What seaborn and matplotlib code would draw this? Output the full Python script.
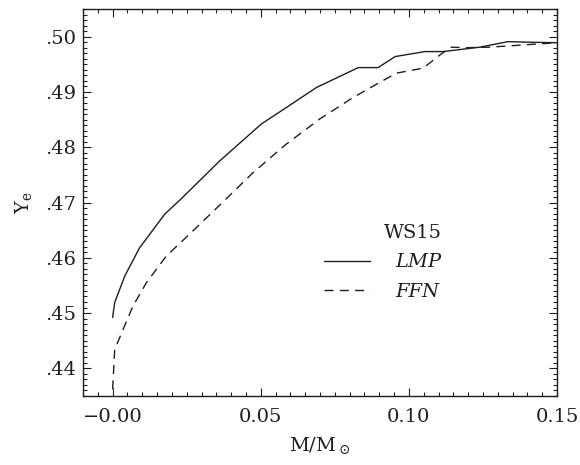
import numpy as np
import pandas as pd
import matplotlib
matplotlib.use("Agg")
import matplotlib.pyplot as plt
from matplotlib.ticker import MultipleLocator, FixedLocator, FixedFormatter, FuncFormatter
from matplotlib.lines import Line2D
import seaborn as sns

# Electron fraction profiles vs. enclosed mass
lmp_mass = [0.0, 0.0007, 0.0041, 0.0091, 0.0176, 0.0232, 0.0361, 0.0502, 0.0587,
            0.0688, 0.0829, 0.0896, 0.0954, 0.1054, 0.1116, 0.1240, 0.1335,
            0.1397, 0.1499]
lmp_ye = [0.4492, 0.4519, 0.4567, 0.4618, 0.4679, 0.4707, 0.4775, 0.4842, 0.4872,
          0.4908, 0.4944, 0.4944, 0.4964, 0.4973, 0.4973, 0.4981, 0.4991,
          0.4990, 0.4989]

ffn_mass = [0.0, 0.0007, 0.0035, 0.0069, 0.0114, 0.0181, 0.0260, 0.0361, 0.0474,
            0.0587, 0.0699, 0.0812, 0.0891, 0.0958, 0.1048, 0.1110, 0.1144,
            0.1194, 0.1273, 0.1386, 0.1499]
ffn_ye = [0.4362, 0.4434, 0.4470, 0.4513, 0.4555, 0.4603, 0.4643, 0.4695, 0.4754,
          0.4806, 0.4851, 0.4890, 0.4914, 0.4934, 0.4943, 0.4969, 0.4981,
          0.4980, 0.4981, 0.4985, 0.4989]

series_names = ["LMP", "FFN"]
legend_title = "WS15"
x_ticks = [0.0, 0.05, 0.10, 0.15]
x_tick_labels = ["\u22120.00", "0.05", "0.10", "0.15"]
y_ticks = [0.44, 0.45, 0.46, 0.47, 0.48, 0.49, 0.50]

df = pd.concat([
    pd.DataFrame({"mass": lmp_mass, "ye": lmp_ye, "model": series_names[0]}),
    pd.DataFrame({"mass": ffn_mass, "ye": ffn_ye, "model": series_names[1]}),
], ignore_index=True)

sns.set_theme(style="ticks")
plt.rcParams["font.family"] = ["DejaVu Serif"]
plt.rcParams["mathtext.fontset"] = "dejavuserif"

ink = "#1e1e1e"
fig = plt.figure(figsize=(5.8, 4.65), dpi=100)
ax = fig.add_axes([83 / 580, 1 - 396 / 465, (557 - 83) / 580, (396 - 9) / 465])

sns.lineplot(data=df, x="mass", y="ye", style="model",
             dashes={"LMP": "", "FFN": (6.5, 4.5)},
             color=ink, linewidth=1.0, estimator=None, sort=False,
             legend=False, ax=ax)

ax.set_xlim(-0.01, 0.15)
ax.set_ylim(0.435, 0.505)

ax.xaxis.set_major_locator(FixedLocator(x_ticks))
ax.xaxis.set_major_formatter(FixedFormatter(x_tick_labels))
ax.xaxis.set_minor_locator(MultipleLocator(0.005))
ax.yaxis.set_major_locator(FixedLocator(y_ticks))
ax.yaxis.set_major_formatter(FuncFormatter(lambda v, p: f"{v:.2f}".lstrip("0")))
ax.yaxis.set_minor_locator(MultipleLocator(0.001))

ax.tick_params(which="both", direction="in", top=True, right=True,
               color=ink, labelcolor=ink, width=0.8, labelsize=14)
ax.tick_params(which="major", length=5.5)
ax.tick_params(which="minor", length=3)
ax.tick_params(axis="x", which="major", pad=9)
ax.tick_params(axis="y", which="major", pad=5)
for s in ax.spines.values():
    s.set_linewidth(1.0)
    s.set_color(ink)

ax.set_xlabel(r"M/M$_\odot$", fontsize=14, color=ink, labelpad=6)
ax.set_ylabel(r"Y$_\mathrm{e}$", fontsize=14, color=ink, labelpad=8)

handles = [Line2D([], [], color=ink, lw=1.0),
           Line2D([], [], color=ink, lw=1.0, dashes=(6.5, 4.5))]
leg = ax.legend(handles, series_names, title=legend_title, frameon=False,
                loc="center", bbox_to_anchor=(0.632, 0.345),
                handlelength=2.4, handletextpad=1.3, labelspacing=0.6,
                borderpad=0.0, alignment="right",
                prop={"family": "DejaVu Serif", "style": "italic", "size": 14},
                title_fontproperties={"family": "DejaVu Serif", "size": 14})
for t in leg.get_texts():
    t.set_color(ink)
leg.get_title().set_color(ink)

fig.savefig("out.png", dpi=100)
